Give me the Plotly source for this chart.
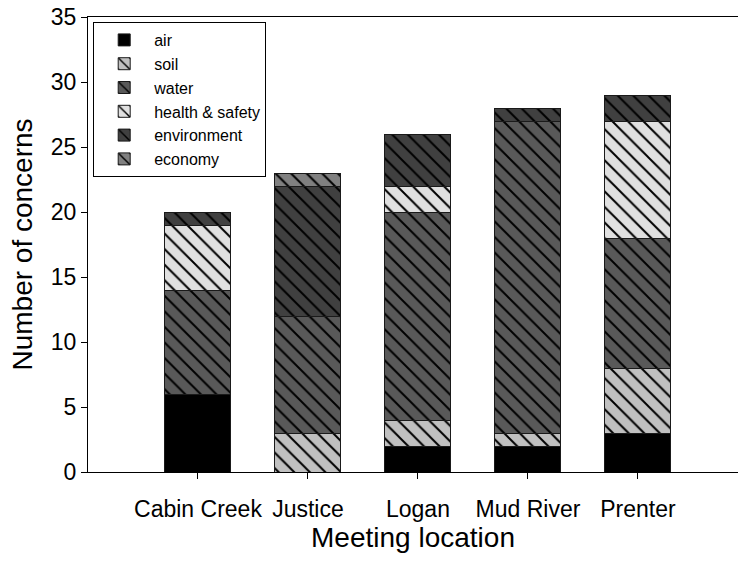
import plotly.graph_objects as go

locations = ["Cabin Creek", "Justice", "Logan", "Mud River", "Prenter"]
air = [6, 0, 2, 2, 3]
soil = [0, 3, 2, 1, 5]
water = [8, 9, 16, 24, 10]
health_safety = [5, 0, 2, 0, 9]
environment = [1, 10, 4, 1, 2]
economy = [0, 1, 0, 0, 0]

series = [
    ("air", air, "#000000", ""),
    ("soil", soil, "#c0c0c0", "\\"),
    ("water", water, "#595959", "\\"),
    ("health & safety", health_safety, "#e0e0e0", "\\"),
    ("environment", environment, "#404040", "\\"),
    ("economy", economy, "#808080", "\\"),
]

fig = go.Figure()
for name, vals, color, shape in series:
    fig.add_trace(go.Bar(
        x=locations, y=vals, name=name, width=0.6,
        marker=dict(
            color=color,
            line=dict(color="#1a1a1a", width=1),
            pattern=dict(shape=shape, fgcolor="#000000", bgcolor=color,
                         fillmode="replace", size=11, solidity=0.18),
        ),
    ))

font = "Liberation Sans, Arial, sans-serif"
fig.update_layout(
    barmode="stack",
    width=738, height=584,
    margin=dict(l=88, r=0, t=17, b=112),
    paper_bgcolor="white", plot_bgcolor="white",
    font=dict(family=font, color="black", size=23),
    showlegend=True,
    legend=dict(
        x=0.008, y=0.989, xanchor="left", yanchor="top",
        bordercolor="black", borderwidth=1, bgcolor="white",
        font=dict(size=16, family=font), traceorder="normal",
        tracegroupgap=0, itemwidth=50,
    ),
    xaxis=dict(
        type="category", range=[-1, 4.91], automargin=False,
        showline=True, linecolor="black", linewidth=1, mirror=True,
        ticks="outside", ticklen=6, tickcolor="black",
        tickfont=dict(size=23), showgrid=False, ticklabelstandoff=10,
        title=dict(text="Meeting location", font=dict(size=28), standoff=4),
    ),
    yaxis=dict(
        range=[0, 35], dtick=5, automargin=False,
        showline=True, linecolor="black", linewidth=1,
        ticks="outside", ticklen=6, tickcolor="black",
        tickfont=dict(size=23), showgrid=False, zeroline=False,
        ticklabeloverflow="allow",
        title=dict(text="Number of concerns", font=dict(size=28), standoff=10),
    ),
)
fig.write_html(
    "out.html",
    config={"displayModeBar": False},
    post_script=(
        "document.documentElement.style.overflow='hidden';"
        "document.body.style.margin='0';"
        "document.body.style.overflow='hidden';"
    ),
)
